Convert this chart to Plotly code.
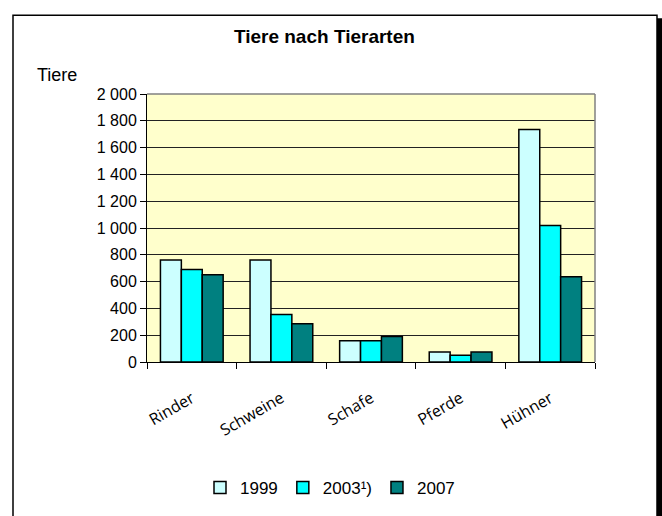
import plotly.graph_objects as go

# data
categories = ["Rinder", "Schweine", "Schafe", "Pferde", "Hühner"]
tiere_1999 = [762, 762, 158, 74, 1735]
tiere_2003 = [690, 355, 158, 50, 1018]
tiere_2007 = [652, 285, 191, 74, 637]
y_ticks = [0, 200, 400, 600, 800, 1000, 1200, 1400, 1600, 1800, 2000]

W, H = 662, 516
L, R, T, B = 147, 67, 94, 153
pw, ph = W - L - R, H - T - B


def px_x(x):
    return (x - L) / pw


def px_y(y):
    return (H - B - y) / ph


sans = "Liberation Sans, Arial"
outline = dict(color="black", width=1.5)

fig = go.Figure()
fig.add_trace(go.Bar(x=categories, y=tiere_1999, name="1999",
                     marker=dict(color="#CCFFFF", line=outline)))
fig.add_trace(go.Bar(x=categories, y=tiere_2003, name="2003¹)",
                     marker=dict(color="#00FFFF", line=outline)))
fig.add_trace(go.Bar(x=categories, y=tiere_2007, name="2007",
                     marker=dict(color="#008080", line=outline)))

fig.update_layout(
    width=W, height=H,
    margin=dict(l=L, r=R, t=T, b=B),
    paper_bgcolor="white",
    plot_bgcolor="#FFFFCC",
    barmode="group",
    bargap=0.3,
    bargroupgap=0,
    separators=", ",
    title=dict(text="<b>Tiere nach Tierarten</b>", x=0.49, xanchor="center",
               y=1 - 36 / H, yanchor="middle",
               font=dict(family=sans, size=19, color="black")),
    legend=dict(orientation="h", x=px_x(330), xanchor="center",
                y=px_y(488), yanchor="middle",
                font=dict(family=sans, size=17, color="black"),
                itemwidth=30, tracegroupgap=0),
    showlegend=True,
)

fig.update_xaxes(
    showline=True, linecolor="black", linewidth=1,
    ticks="outside", tickson="boundaries", ticklen=6, tickcolor="black",
    tickangle=-30, ticklabelstandoff=20,
    tickfont=dict(family="Open Sans", size=16, color="black"),
    showgrid=False,
)
fig.update_yaxes(
    range=[0, 2000], tickvals=y_ticks, tickformat=",d",
    showline=True, linecolor="black", linewidth=1,
    ticks="outside", ticklen=6, tickcolor="black",
    tickfont=dict(family=sans, size=16, color="black"),
    showgrid=True, gridcolor="#222222", gridwidth=1,
    zeroline=False,
)

fig.add_annotation(text="Tiere", xref="paper", yref="paper",
                   x=px_x(35), y=px_y(75), xanchor="left", yanchor="middle",
                   showarrow=False,
                   font=dict(family=sans, size=18, color="black"))

# outer frame with a dark shadow on the right
fig.add_shape(type="rect", xref="paper", yref="paper",
              x0=px_x(13), x1=px_x(657), y0=px_y(H + 20), y1=px_y(15),
              line=dict(color="black", width=1.5), layer="below")
fig.add_shape(type="rect", xref="paper", yref="paper",
              x0=px_x(657), x1=px_x(663), y0=px_y(H + 20), y1=px_y(18),
              line=dict(width=0), fillcolor="black", layer="below")
# gray border on top and right of the plot area
fig.add_shape(type="line", xref="paper", yref="paper", x0=0, x1=1, y0=1, y1=1,
              line=dict(color="#808080", width=1.5))
fig.add_shape(type="line", xref="paper", yref="paper", x0=1, x1=1, y0=0, y1=1,
              line=dict(color="#808080", width=1.5))

fig.write_html("out.html", config={"displayModeBar": False},
               post_script="document.body.style.margin='0';"
                           "document.body.style.overflow='hidden';")
